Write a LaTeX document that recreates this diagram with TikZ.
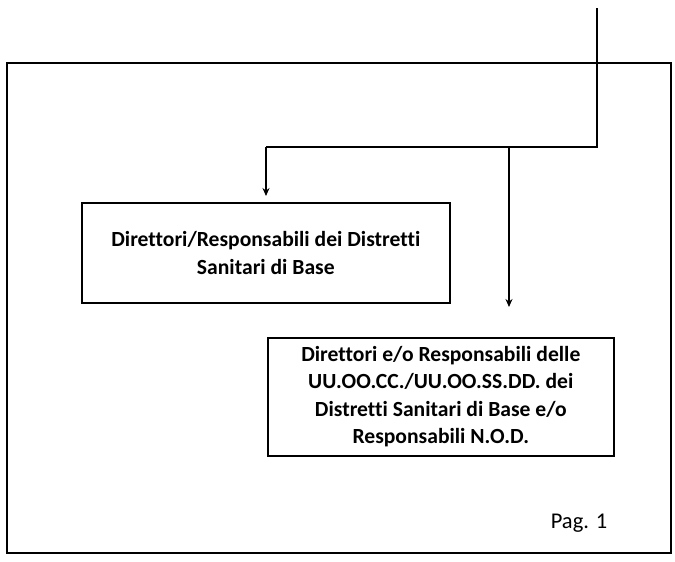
\documentclass[tikz,border=0pt]{standalone}
\usepackage{fontspec}
\setmainfont{Carlito}[Ligatures={NoCommon}]
\usetikzlibrary{arrows.meta}
\begin{document}
\begin{tikzpicture}[x=1pt,y=-1pt,
  frame/.style={draw=black,line width=1.8pt},
  conn/.style={draw=black,line width=2pt},
  arr/.style={conn,-{Stealth[length=8pt,width=7pt]}},
  txtbox/.style={draw=black,line width=1.6pt,align=center,font=\fontsize{21.6}{27.5}\selectfont\bfseries,inner sep=0pt}]
\useasboundingbox (0,0) rectangle (675,562);
\draw[frame] (7,63) rectangle (671,553);
\node[txtbox,minimum width=368pt,minimum height=100pt,anchor=north west] (b1) at (81,202)
  {Direttori/Responsabili dei Distretti\\Sanitari di Base};
\node[txtbox,minimum width=346pt,minimum height=118pt,anchor=north west] (b2) at (267,337)
  {Direttori e/o Responsabili delle\\UU.OO.CC./UU.OO.SS.DD. dei\\Distretti Sanitari di Base e/o\\Responsabili N.O.D.};
\node[font=\fontsize{22.5}{26}\selectfont,anchor=center] (pag) at (579,523) {Pag. 1};
\coordinate (top) at (597,8);
\coordinate (turn) at (597,147);
\coordinate (j1) at (266,147);
\coordinate (j2) at (509,147);
\coordinate (t1) at (266,196);
\coordinate (t2) at (509,307);
\draw[conn] (top) -- (turn) -- (j1);
\draw[arr] (j1) -- (t1);
\draw[arr] (j2) -- (t2);
\end{tikzpicture}
\end{document}
